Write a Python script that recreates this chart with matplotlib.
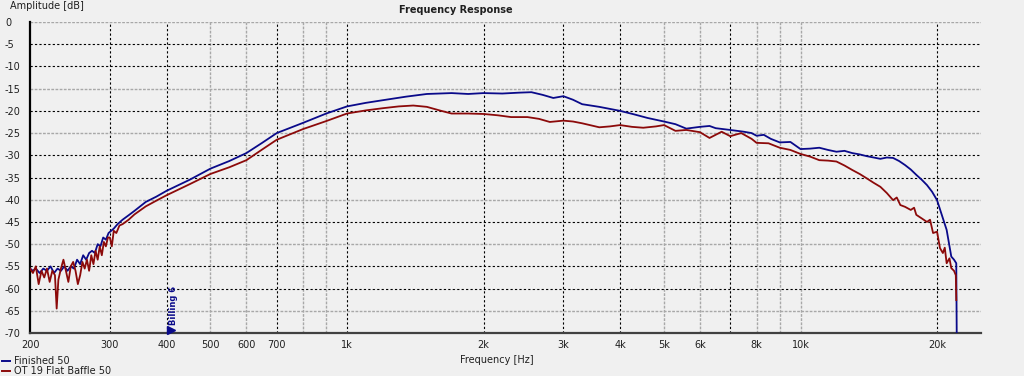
import matplotlib
matplotlib.use("Agg")
import matplotlib.pyplot as plt
from matplotlib.lines import Line2D

# ---- data ----
blue_f = [200, 203, 206, 210, 214, 218, 222, 226, 230, 234, 238, 242, 246, 250, 254, 258, 262, 266, 270, 274,
          278, 282, 286, 290, 294, 298, 302, 306, 312, 320, 330, 340, 360, 380, 400, 450, 500, 550, 600, 650,
          700, 800, 900, 1000, 1100, 1200, 1350, 1500, 1700, 1850, 2000, 2200, 2400, 2550, 2700, 2850, 3000,
          3150, 3300, 3600, 4000, 4300, 4600, 5000, 5300, 5600, 6000, 6300, 6500, 7000, 7500, 7800, 8000, 8300,
          8600, 9000, 9500, 10000, 10500, 11000, 11500, 12000, 12500, 13000, 13500, 14000, 14500, 15000, 15500,
          16000, 16500, 17000, 17500, 18000, 18500, 19000, 19500, 20000, 20500, 21000, 21500, 21800, 22050, 22100]
blue_db = [-55.5, -56, -55.5, -56.5, -55.5, -56, -55, -56.5, -55.5, -56, -55, -56, -55, -55.5, -53.5, -54.5, -52.5,
           -53.5, -52, -51.5, -52, -50, -50.5, -48.5, -49, -47.5, -47, -46.5, -45.5, -44.5, -43.5, -42.5, -40.5,
           -39.3, -38, -35.5, -33, -31.3, -29.5, -27.2, -25, -22.7, -20.6, -19, -18.2, -17.6, -16.8, -16.2, -16.0,
           -16.2, -16.0, -16.1, -15.9, -15.8, -16.4, -17.1, -16.7, -17.5, -18.5, -19.1, -20.0, -20.8, -21.6, -22.4,
           -23.0, -24.0, -23.6, -23.4, -23.9, -24.3, -24.7, -25.0, -25.6, -25.4, -26.3, -27.1, -27.0, -28.6, -28.5,
           -28.3, -28.8, -29.2, -29.0, -29.5, -29.8, -30.2, -30.5, -30.8, -30.5, -30.6, -31.3, -32.2, -33.2, -34.4,
           -35.5, -36.7, -38.2, -40.1, -43.5, -46.8, -52.8, -53.5, -54.3, -70]

red_f = [200, 203, 206, 209, 212, 215, 218, 221, 224, 227, 229, 231, 234, 237, 240, 243, 246, 249, 252, 255, 258,
         261, 264, 267, 270, 273, 276, 279, 282, 285, 288, 291, 294, 297, 300, 303, 306, 310, 315, 320, 330, 340,
         360, 380, 400, 450, 500, 550, 600, 650, 700, 800, 900, 1000, 1100, 1200, 1300, 1400, 1500, 1600, 1700,
         1850, 2000, 2150, 2300, 2500, 2650, 2800, 3000, 3150, 3300, 3600, 3800, 4000, 4250, 4500, 4800, 5000,
         5300, 5600, 6000, 6300, 6700, 7000, 7400, 7800, 8000, 8500, 9000, 9500, 10000, 10500, 11000, 11500,
         12000, 12500, 13000, 13500, 14000, 14500, 15000, 15500, 16000, 16300, 16600, 17000, 17500, 17800, 18000,
         18500, 19000, 19300, 19600, 20000, 20300, 20600, 20800, 21000, 21300, 21500, 21800, 22000, 22050]
red_db = [-55.5, -56.5, -55, -59, -56, -57.5, -55.5, -58.5, -56, -57, -64.5, -58, -55.5, -53.5, -56, -58.5, -55,
          -54, -56, -59, -57, -54, -55.5, -53.5, -56, -52.5, -54.5, -51.5, -53.5, -50.5, -52.5, -49.5, -50.5,
          -48.5, -48.5, -50.5, -47, -47.5, -45.8, -45.5, -44.5, -43.3, -41.5, -40.2, -39.0, -36.5, -34.2, -32.7,
          -31.1, -28.7, -26.5, -24.1, -22.3, -20.6, -19.9, -19.4, -19.0, -18.8, -19.1, -19.9, -20.6, -20.6, -20.7,
          -21.0, -21.4, -21.4, -21.8, -22.5, -22.2, -22.4, -22.8, -23.7, -23.5, -23.2, -23.6, -23.8, -23.5, -23.2,
          -24.5, -24.3, -24.8, -26.1, -24.7, -25.7, -25.0, -26.3, -27.2, -27.3, -28.3, -28.8, -29.7, -30.3, -31.1,
          -31.2, -31.4, -32.3, -33.3, -34.2, -35.2, -36.2, -37.1, -38.5, -40.1, -39.5, -41.2, -41.6, -42.3, -41.8,
          -43.4, -44.2, -45.0, -44.5, -47.5, -47.2, -50.9, -52.0, -50.8, -54.3, -53.2, -55.4, -56.0, -57.0, -62.6]

series_names = ["Finished 50", "OT 19 Flat Baffle 50"]
x_ticks = [200, 300, 400, 500, 600, 700, 1000, 2000, 3000, 4000, 5000, 6000, 8000, 10000, 20000]
x_ticklabels = ["200", "300", "400", "500", "600", "700", "1k", "2k", "3k", "4k", "5k", "6k", "8k", "10k", "20k"]
y_ticks = list(range(0, -75, -5))
vgrid_dark = [300, 400, 700, 1000, 2000, 3000, 4000, 7000, 20000]
vgrid_light = [500, 600, 800, 900, 5000, 6000, 8000, 9000, 10000]
hgrid_light = [0, -15, -25, -40, -50, -65]
hgrid_dark = [-5, -10, -20, -30, -35, -45, -55, -60]
marker_f = 410

BG = "#F0F0F0"
BLUE = "#0A0A8A"
RED = "#8C0A0A"
FS = 7

plt.rcParams["font.family"] = ["DejaVu Sans"]
fig = plt.figure(figsize=(10.24, 3.76), dpi=100, facecolor=BG)
ax = fig.add_axes([30 / 1024, 1 - 333 / 376, (981 - 30) / 1024, (333 - 22) / 376])
ax.set_facecolor(BG)
ax.set_xscale("log")
ax.set_xlim(200, 25000)
ax.set_ylim(-70, 0)

for f in vgrid_dark:
    ax.axvline(f, color="black", lw=0.8, ls=(0, (2, 2)), zorder=1)
for f in vgrid_light:
    ax.axvline(f, color="#A8A8A8", lw=1.0, ls=(0, (2, 1)), zorder=1)
for v in hgrid_dark:
    ax.axhline(v, color="black", lw=0.8, ls=(0, (2, 2)), zorder=1)
for v in hgrid_light:
    ax.axhline(v, color="#A8A8A8", lw=1.0, ls=(0, (2, 1)), zorder=1)

ax.plot(blue_f, blue_db, color=BLUE, lw=1.3, zorder=3, label=series_names[0])
ax.plot(red_f, red_db, color=RED, lw=1.3, zorder=4, label=series_names[1])

# cursor marker
ax.plot([marker_f], [-69.3], marker=">", color=BLUE, ms=6, zorder=5, clip_on=False)
ax.text(marker_f * 1.01, -68.3, "Billing 6", rotation=90, fontsize=6, color=BLUE,
        fontweight="bold", ha="center", va="bottom", zorder=5)

ax.set_xticks(x_ticks)
ax.set_xticklabels(x_ticklabels)
ax.xaxis.set_minor_locator(matplotlib.ticker.NullLocator())
ax.set_yticks(y_ticks)
ax.set_yticklabels([str(v) for v in y_ticks])
ax.tick_params(axis="x", length=0, pad=5, labelsize=FS, colors="#202020")
ax.tick_params(axis="y", length=0, pad=18, labelsize=FS, colors="#202020")
for lab in ax.get_yticklabels():
    lab.set_horizontalalignment("left")

for s in ["top", "right"]:
    ax.spines[s].set_visible(False)
ax.spines["left"].set_color("black")
ax.spines["left"].set_linewidth(1.6)
ax.spines["bottom"].set_color("#404040")
ax.spines["bottom"].set_linewidth(1.6)

fig.text(10 / 1024, 1 - 6 / 376, "Amplitude [dB]", fontsize=FS, color="#202020", ha="left", va="center")
fig.text(456 / 1024, 1 - 10 / 376, "Frequency Response", fontsize=FS, color="#202020", ha="center",
         va="center", fontweight="bold")
fig.text(497 / 1024, 1 - 360 / 376, "Frequency [Hz]", fontsize=FS, color="#202020", ha="center", va="center")

handles = [Line2D([], [], color=BLUE, lw=1.4), Line2D([], [], color=RED, lw=1.4)]
fig.legend(handles, series_names, loc="lower left", bbox_to_anchor=(0.0, -0.005), frameon=False,
           fontsize=FS, handlelength=0.8, handletextpad=0.4, labelspacing=0.0, borderpad=0.2,
           borderaxespad=0.0, labelcolor="#202020")

fig.savefig("out.png", dpi=100, facecolor=BG)
